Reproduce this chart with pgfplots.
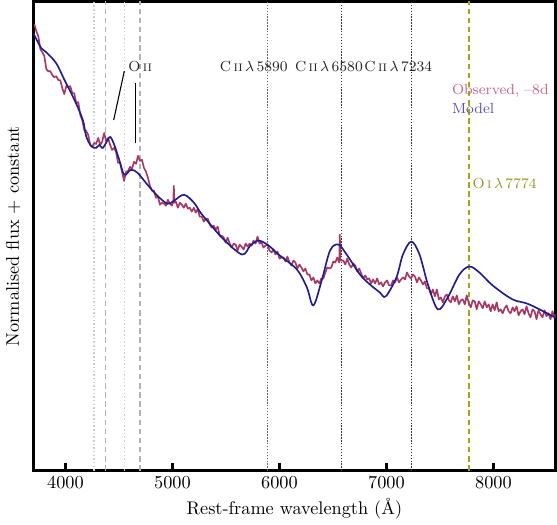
\documentclass[border=0pt]{standalone}
\usepackage{pgfplots}
\pgfplotsset{compat=1.18}
\definecolor{obs}{RGB}{168,56,98}
\definecolor{obstext}{RGB}{200,100,140}
\definecolor{mod}{RGB}{32,28,140}
\definecolor{modtext}{RGB}{90,80,180}
\definecolor{linolive}{RGB}{165,165,20}
\definecolor{olivetext}{RGB}{150,150,40}
\begin{document}
\begin{tikzpicture}
\begin{axis}[
  scale only axis, width=286pt, height=257pt,
  xmin=3700, xmax=8580, ymin=0, ymax=471,
  axis line style={line width=1.6pt},
  xtick={4000,5000,6000,7000,8000}, ytick=\empty,
  xtick pos=bottom, tick align=inside, major tick length=4pt,
  every tick/.style={black, line width=1.6pt},
  scaled x ticks=false,
  x tick label style={/pgf/number format/1000 sep={}},
  xlabel={Rest-frame wavelength (\AA)},
  ylabel={Normalised flux + constant},
  xlabel style={yshift=2pt},
  ylabel style={yshift=3.5pt},
]
% line markers
\addplot[gray!40, line width=0.6pt, dash pattern=on 0.8pt off 1.2pt] coordinates {(4267,0) (4267,471)};
\addplot[gray!60, line width=0.6pt, dash pattern=on 3pt off 2pt] coordinates {(4373,0) (4373,471)};
\addplot[gray!40, line width=0.6pt, dash pattern=on 0.8pt off 1.2pt] coordinates {(4552,0) (4552,471)};
\addplot[gray!60, line width=0.6pt, dash pattern=on 3pt off 2pt] coordinates {(4697,0) (4697,471)};
\addplot[black!60, line width=0.7pt, dash pattern=on 0.8pt off 0.8pt] coordinates {(5890,0) (5890,471)};
\addplot[black!80, line width=0.6pt, dash pattern=on 0.8pt off 0.8pt] coordinates {(6580,0) (6580,471)};
\addplot[black!80, line width=0.6pt, dash pattern=on 0.8pt off 0.8pt] coordinates {(7234,0) (7234,471)};
\addplot[draw=linolive, line width=0.9pt, dash pattern=on 3pt off 2pt] coordinates {(7774,0) (7774,471)};
% observed
\addplot[obs, line width=0.9pt, line join=round] coordinates {
(3710,448) (3729,441) (3747,436) (3766,423) (3785,420) (3803,416) (3822,403) (3840,401)
(3859,401) (3878,397) (3896,395) (3915,396) (3934,392) (3952,392) (3971,384) (3989,378)
(4008,386) (4027,385) (4045,386) (4064,379) (4082,379) (4101,369) (4120,370) (4139,357)
(4157,352) (4176,342) (4194,341) (4213,337) (4232,327) (4250,325) (4269,329) (4287,328)
(4306,334) (4325,327) (4343,330) (4362,339) (4380,331) (4399,334) (4418,327) (4436,322)
(4455,324) (4473,320) (4492,309) (4511,309) (4529,300) (4548,291) (4566,300) (4585,301)
(4604,305) (4622,303) (4641,310) (4660,308) (4678,316) (4697,311) (4715,312) (4734,304)
(4753,300) (4771,294) (4790,286) (4809,281) (4827,281) (4846,274) (4864,275) (4883,267)
(4902,269) (4920,268) (4939,266) (4958,272) (4976,268) (4995,266) (5008,270) (5013,286)
(5018,269) (5032,270) (5051,264) (5069,269) (5088,267) (5106,264) (5125,268) (5144,263)
(5162,264) (5181,260) (5200,264) (5218,259) (5237,263) (5255,255) (5274,255) (5293,250)
(5311,253) (5330,253) (5349,247) (5367,244) (5386,246) (5404,242) (5423,245) (5442,236)
(5460,236) (5479,234) (5497,229) (5516,234) (5535,228) (5553,224) (5572,228) (5591,227)
(5609,221) (5628,227) (5646,225) (5665,222) (5684,228) (5702,225) (5721,228) (5740,226)
(5758,231) (5777,228) (5795,235) (5814,228) (5833,229) (5851,224) (5870,226) (5889,227)
(5907,221) (5926,219) (5944,222) (5963,217) (5982,220) (6000,213) (6019,214) (6038,214)
(6056,210) (6075,215) (6093,209) (6112,206) (6131,211) (6149,209) (6168,203) (6187,207)
(6205,204) (6224,200) (6242,203) (6261,197) (6280,197) (6298,191) (6317,194) (6336,188)
(6354,191) (6373,188) (6391,193) (6410,193) (6429,199) (6447,204) (6466,203) (6485,204)
(6503,210) (6522,209) (6540,214) (6559,209) (6564,237) (6569,212) (6578,211) (6596,211)
(6615,207) (6633,213) (6652,207) (6671,204) (6689,208) (6708,206) (6727,200) (6745,203)
(6764,198) (6782,193) (6801,196) (6820,192) (6838,193) (6857,188) (6875,192) (6894,188)
(6913,193) (6931,187) (6950,189) (6968,185) (6987,189) (7006,191) (7024,186) (7043,186)
(7062,191) (7080,189) (7099,194) (7117,189) (7136,192) (7155,194) (7173,192) (7192,199)
(7211,195) (7229,193) (7248,197) (7266,195) (7285,189) (7304,194) (7322,191) (7341,187)
(7359,190) (7378,183) (7397,183) (7415,177) (7434,182) (7452,175) (7471,182) (7490,172)
(7508,174) (7527,169) (7546,175) (7564,177) (7583,171) (7601,169) (7620,175) (7639,170)
(7657,176) (7676,167) (7695,171) (7713,172) (7732,167) (7750,176) (7769,168) (7788,164)
(7806,171) (7825,170) (7843,162) (7862,170) (7881,167) (7899,163) (7918,170) (7937,164)
(7955,167) (7974,160) (7992,167) (8011,161) (8030,169) (8048,160) (8067,162) (8086,158)
(8104,163) (8123,166) (8141,160) (8160,158) (8179,164) (8197,160) (8216,165) (8235,156)
(8253,160) (8272,162) (8290,157) (8309,165) (8328,158) (8346,154) (8365,162) (8384,160)
(8402,152) (8421,161) (8439,157) (8458,154) (8477,161) (8495,155) (8514,158) (8533,152)
(8551,160) (8570,154) (8588,157)
};
% model
\addplot[mod, line width=0.9pt, smooth, tension=0.55] coordinates {
(3700,439) (3710,437) (3775,424) (3821,420) (3914,409) (3992,392) (4085,372) (4163,352)
(4193,336) (4240,326) (4287,324) (4317,327) (4349,324) (4395,332) (4420,335) (4457,327)
(4503,312) (4550,297) (4612,302) (4674,299) (4767,287) (4860,276) (4953,268) (5015,271)
(5108,277) (5201,269) (5263,259) (5356,247) (5480,232) (5651,217) (5728,226) (5806,231)
(5899,226) (5992,217) (6163,202) (6256,184) (6317,166) (6395,191) (6473,221) (6550,227)
(6628,217) (6752,197) (6845,187) (6938,179) (6993,175) (7093,194) (7154,217) (7232,230)
(7309,217) (7387,187) (7480,162) (7573,174) (7682,197) (7775,205) (7868,199) (7992,186)
(8178,172) (8333,167) (8590,153)
};
% annotations
\draw[line width=0.6pt] (axis cs:4451,352) -- (axis cs:4550,401);
\draw[line width=0.6pt] (axis cs:4656,389) -- (axis cs:4656,329);
\node[anchor=west, inner sep=0pt, font=\footnotesize, black!85] at (axis cs:4585,406) {O\,\textsc{ii}};
\node[inner sep=0pt, font=\footnotesize, black!85] at (axis cs:5760,406) {C\,\textsc{ii}\,$\lambda$\,5890};
\node[inner sep=0pt, font=\footnotesize, black!85] at (axis cs:6462,406) {C\,\textsc{ii}\,$\lambda$\,6580};
\node[inner sep=0pt, font=\footnotesize, black!85] at (axis cs:7110,406) {C\,\textsc{ii}\,$\lambda$\,7234};
\node[anchor=west, inner sep=0pt, font=\footnotesize, olivetext] at (axis cs:7802,288) {O\,\textsc{i}\,$\lambda$\,7774};
\node[anchor=west, inner sep=0pt, obstext, font=\footnotesize] at (axis cs:7609,381) {Observed, --8d};
\node[anchor=west, inner sep=0pt, modtext, font=\footnotesize] at (axis cs:7609,364) {Model};
\end{axis}
\end{tikzpicture}
\end{document}
